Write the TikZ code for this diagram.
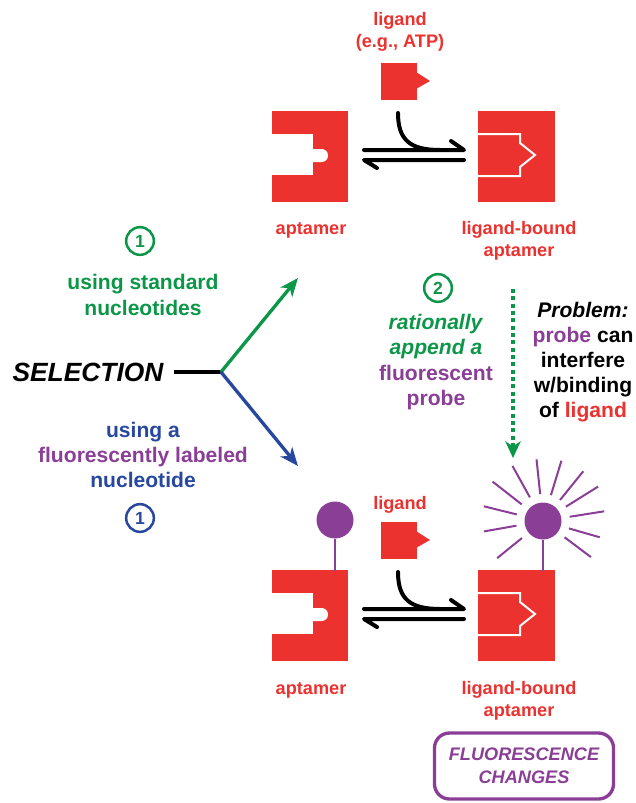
\documentclass[tikz,border=0pt]{standalone}
\usepackage{fontspec}
\setmainfont{Liberation Sans}
\usetikzlibrary{arrows.meta}
\definecolor{aptred}{RGB}{236,50,47}
\definecolor{selgreen}{RGB}{12,150,72}
\definecolor{selblue}{RGB}{40,72,160}
\definecolor{probepurple}{RGB}{138,62,150}

\tikzset{
  lbl/.style={font=\fontsize{15.5}{18.5}\selectfont\bfseries, align=center, inner sep=0pt},
  txt/.style={font=\fontsize{18}{21.5}\selectfont\bfseries, align=center, inner sep=0pt},
  seltext/.style={font=\fontsize{22.5}{27}\selectfont\bfseries\itshape, inner sep=3mm},
  num/.style={circle, draw, line width=0.75mm, minimum size=8.3mm, inner sep=0pt, font=\fontsize{15}{15}\selectfont\bfseries},
  selline/.style={line width=1mm},
  selarrow/.style={line width=1mm, -{Stealth[length=5.5mm,width=4.5mm,inset=1.6mm]}},
  dotarrow/.style={selgreen, line width=1.2mm, dash pattern=on 1.2mm off 1mm, -{Stealth[length=5mm,width=4.6mm,inset=1.5mm]}},
  eqline/.style={line width=1.2mm, line cap=round, line join=round},
  boundlig/.style={draw=white, fill=aptred, line width=0.6mm},
  probe/.style={circle, fill=probepurple, minimum size=11.1mm, inner sep=0pt},
  stem/.style={probepurple, line width=0.6mm},
  ray/.style={probepurple, line width=0.6mm},
  changes/.style={draw=probepurple, text=probepurple, line width=1mm, rounded corners=4.5mm, minimum width=53.7mm, minimum height=19.8mm, align=center, font=\fontsize{15.5}{19.5}\selectfont\bfseries\itshape},
}

\begin{document}
\begin{tikzpicture}[x=0.3mm,y=-0.3mm]
    \useasboundingbox (0,0) rectangle (635,803);
    % % ----- aptamers, ligands, equilibria (top row, bottom row) ----- % %
    \foreach \r in {0,459} {
      \begin{scope}[shift={(0,\r)}]
        \fill[aptred] (272,111) rectangle (348,202); 			% aptamer
        \fill[white] (271,134) rectangle (313,175); 			% pocket
        \fill[white, rounded corners=1.9mm] (305,149) rectangle (328,162);
        \fill[aptred] (478,111) rectangle (555,202); 			% ligand-bound aptamer
        \draw[boundlig] (478,134) -- (520,134) -- (520,143) -- (535,155) -- (520,167) -- (520,176) -- (478,176);
        \fill[aptred] (381,63) rectangle (417,100); 			% ligand
        \fill[aptred] (416,72) -- (430,81) -- (416,89) -- cycle;
        \draw[eqline] (364,150) -- (464,150) -- (451,141); 		% forward
        \draw[eqline] (464,160) -- (364,160) -- (377,168); 		% back
        \draw[eqline] (398,113) .. controls (398,140) and (410,150) .. (440,150); 	% binding
      \end{scope}
    }
    % % ----- labels ----- % %
    \node[lbl, aptred] (lig1) at (400,32) {ligand\\(e.g., ATP)};
    \node[lbl, aptred] (apt1) at (311,230) {aptamer};
    \node[lbl, aptred] (bound1) at (519,241) {ligand-bound\\aptamer};
    \node[lbl, aptred] (lig2) at (400,505) {ligand};
    \node[lbl, aptred] (apt2) at (311,690) {aptamer};
    \node[lbl, aptred] (bound2) at (519,701) {ligand-bound\\aptamer};
    % % ----- selection ----- % %
    \node[seltext] (sel) at (88,372) {SELECTION};
    \coordinate (fork) at (221,372);
    \coordinate (up) at (298,278);
    \coordinate (down) at (298,466);
    \draw[selline] (sel) -- (fork);
    \draw[selarrow, selgreen] (fork) -- (up); 		% standard
    \draw[selarrow, selblue] (fork) -- (down); 		% labeled
    \node[num, selgreen] (one1) at (140,241) {1};
    \node[txt, selgreen] (std) at (143,295) {using standard\\nucleotides};
    \node[txt, selblue] (lab) at (143,455) {using a\\\textcolor{probepurple}{fluorescently labeled}\\nucleotide};
    \node[num, selblue] (one2) at (140,518) {1};
    % % ----- step 2 ----- % %
    \node[num, selgreen] (two) at (438,288) {2};
    \node[txt, selgreen] (append) at (436,362) {\textit{rationally}\\\textit{append a}\\\textcolor{probepurple}{fluorescent}\\\textcolor{probepurple}{probe}};
    \coordinate (dstart) at (513,289);
    \coordinate (dend) at (513,458);
    \draw[dotarrow] (dstart) -- (dend);
    \node[txt] (problem) at (583,362) {\textit{Problem:}\\\textcolor{probepurple}{probe} can\\interfere\\w/binding\\of \textcolor{aptred}{ligand}};
    % % ----- probes ----- % %
    \node[probe] (p1) at (335,520) {};
    \node[probe] (p2) at (543,521) {};
    \coordinate (s1) at (335,571);
    \coordinate (s2) at (543,571);
    \draw[stem] (p1) -- (s1);
    \draw[stem] (p2) -- (s2);
    \foreach \a/\l in {-119/36,-96/35,-73/36,-51/37,-32/38,-9/35,16/32,37/33,141/32,170/33,-166/34,-142/37}
      \draw[ray] (p2.center) ++(\a:27) -- ++(\a:\l);
    % % ----- result ----- % %
    \node[changes] (fl) at (524,766) {FLUORESCENCE\\CHANGES};
\end{tikzpicture}
\end{document}
